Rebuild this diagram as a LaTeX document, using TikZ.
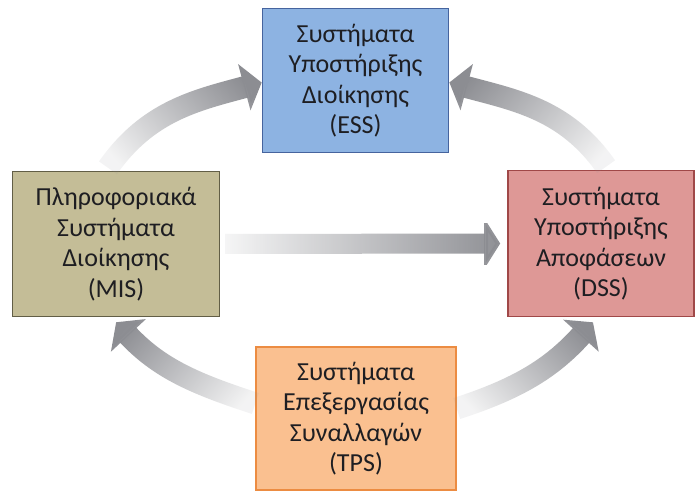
\documentclass[tikz,border=0pt]{standalone}
\usepackage{fontspec}
\setmainfont{Carlito}
\usetikzlibrary{arrows.meta,fadings}

\definecolor{essfill}{RGB}{141,179,226}
\definecolor{essline}{RGB}{70,100,158}
\definecolor{misfill}{RGB}{196,189,151}
\definecolor{misline}{RGB}{98,94,70}
\definecolor{dssfill}{RGB}{222,152,150}
\definecolor{dssline}{RGB}{160,72,72}
\definecolor{tpsfill}{RGB}{250,192,144}
\definecolor{tpsline}{RGB}{236,140,66}
\definecolor{textdark}{RGB}{30,30,34}
\definecolor{flowgray}{RGB}{140,141,146}

% flows fade in from the source towards the head
\tikzfading[name=flowfade, left color=transparent!90, middle color=transparent!45, right color=transparent!0]
\tikzfading[name=flowfadelong, left color=transparent!95, middle color=transparent!50, right color=transparent!0]

\tikzset{
  sysbox/.style={draw, line width=1.5pt, align=center, inner sep=0pt,
    font=\fontsize{26}{30.5}\selectfont, text=textdark},
  flow/.style={draw=flowgray, line width=22pt,
    -{Triangle[width=47pt,length=18pt]}, path fading=flowfade},
}

\begin{document}
\begin{tikzpicture}[x=1pt,y=1pt]
\useasboundingbox[fill=white] (0,0) rectangle (696,493);

% the four information systems
\node[sysbox, fill=essfill, draw=essline, minimum width=186pt, minimum height=144pt]
  (ess) at (355.5,412.5) {Συστήματα\\Υποστήριξης\\Διοίκησης\\(ESS)};
\node[sysbox, fill=misfill, draw=misline, minimum width=207pt, minimum height=145pt]
  (mis) at (116,249) {Πληροφοριακά\\Συστήματα\\Διοίκησης\\(MIS)};
\node[sysbox, fill=dssfill, draw=dssline, minimum width=186pt, minimum height=146pt]
  (dss) at (601,249.5) {Συστήματα\\Υποστήριξης\\Αποφάσεων\\(DSS)};
\node[sysbox, fill=tpsfill, draw=tpsline, minimum width=200pt, minimum height=143pt]
  (tps) at (356,74.5) {Συστήματα\\Επεξεργασίας\\Συναλλαγών\\(TPS)};

% information flows between the systems
\draw[flow, fading angle=29] ([xshift=-8pt,yshift=3pt]mis.north)
  to[out=55,in=195] ([yshift=-2pt]ess.west);
\draw[flow, fading angle=151] ([xshift=5pt,yshift=3pt]dss.north)
  to[out=125,in=-15] ([yshift=-2pt]ess.east);
\draw[flow, fading angle=150] ([yshift=15pt]tps.west)
  to[out=162,in=313] ([yshift=-5pt]mis.south);
\draw[flow, fading angle=33] ([yshift=10pt]tps.east)
  to[out=18,in=228] ([xshift=-8pt,yshift=-5pt]dss.south);
\draw[flow, line width=20pt, -{Triangle[width=50pt,length=16pt]}, path fading=flowfadelong]
  ([xshift=5pt]mis.east) -- ([xshift=-7pt]dss.west);
\end{tikzpicture}
\end{document}
